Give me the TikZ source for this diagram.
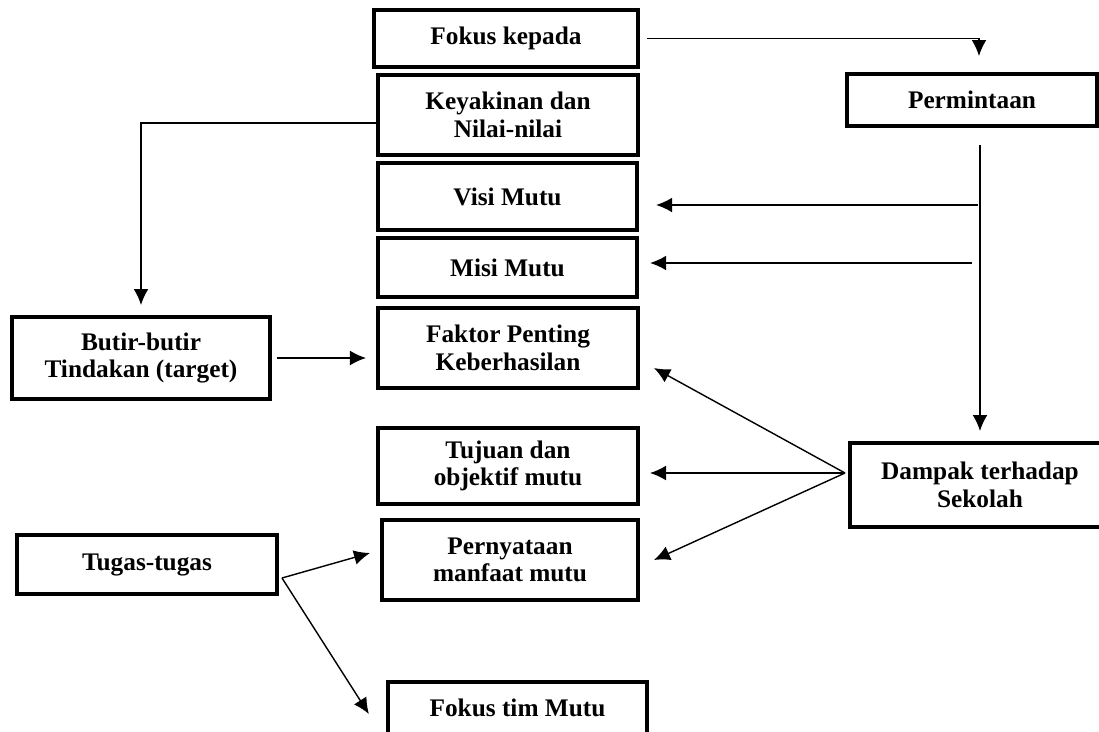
\documentclass[tikz,border=0pt]{standalone}
\usepackage{fontspec}
\setmainfont{Liberation Serif}
\usetikzlibrary{arrows.meta}

\begin{document}
\begin{tikzpicture}[x=0.025cm,y=-0.025cm,->,>={Latex[length=4mm,width=3.7mm]},line width=1pt]
      \tikzstyle{every node}=[draw,shape=rectangle,line width=2.8pt,align=center,
        inner sep=0pt,font=\fontsize{18}{19.5}\selectfont\bfseries];
        \useasboundingbox (0,0) rectangle (1099,731);

        \path (506,38.5)  node[minimum width=6.6cm,minimum height=1.43cm] (fokus) {Fokus kepada};
        \path (508,115)   node[minimum width=6.5cm,minimum height=2.0cm] (yakin) {Keyakinan dan\\Nilai-nilai};
        \path (972,100)   node[minimum width=6.25cm,minimum height=1.3cm] (minta) {Permintaan};
        \path (507.5,196.5) node[minimum width=6.48cm,minimum height=1.68cm] (visi) {Visi Mutu};
        \path (507.5,267.5) node[minimum width=6.48cm,minimum height=1.48cm] (misi) {Misi Mutu};
        \path (508,348)   node[minimum width=6.5cm,minimum height=2.0cm] (faktor) {Faktor Penting\\Keberhasilan};
        \path (508,466)   node[minimum width=6.5cm,minimum height=1.9cm] (tujuan) {Tujuan dan\\objektif mutu};
        \path (510,560)   node[minimum width=6.4cm,minimum height=2.0cm] (nyata) {Pernyataan\\manfaat mutu};
        \path (517.5,708) node[minimum width=6.48cm,minimum height=1.32cm] (tim) {Fokus tim Mutu};
        \path (141,358)   node[minimum width=6.45cm,minimum height=2.05cm] (butir) {Butir-butir\\Tindakan (target)};
        \path (147,564.5) node[minimum width=6.5cm,minimum height=1.48cm] (tugas) {Tugas-tugas};
        \path (980,485)   node[minimum width=6.5cm,minimum height=2.1cm] (dampak) {Dampak terhadap\\Sekolah};

        \coordinate (j1) at (978,205);
        \coordinate (j2) at (972,263);
        \coordinate (fan) at (845,473);
        \coordinate (tg) at (282,578);

        \path[->,draw,shorten <=1.75mm,shorten >=4mm] (fokus.east) -| ([xshift=1.75mm]minta.north);
        \path[->,draw,shorten <=4.25mm,shorten >=2.5mm] (dampak.north |- minta.south) -- (dampak.north);
        \path[->,draw,shorten >=4.25mm] (j1) -- (visi.east |- j1);
        \path[->,draw,shorten >=2.75mm] (j2) -- (misi.east |- j2);
        \path[->,draw] (fan) -- ([xshift=3.5mm,yshift=-5mm]faktor.east);
        \path[->,draw,shorten >=2.5mm] (fan) -- (fan -| tujuan.east);
        \path[->,draw] (fan) -- ([xshift=3.5mm]nyata.east);
        \path[->,draw,shorten >=2.5mm] ([yshift=-2mm]yakin.west) -| (butir.north);
        \path[->,draw,shorten <=1.25mm,shorten >=2.5mm] (butir.east) -- (butir.east -| faktor.west);
        \path[->,draw] (tg) -- ([xshift=-2.5mm,yshift=1.75mm]nyata.west);
        \path[->,draw] (tg) -- ([xshift=-4.25mm,yshift=-1.5mm]tim.west);
    \end{tikzpicture}
\end{document}
